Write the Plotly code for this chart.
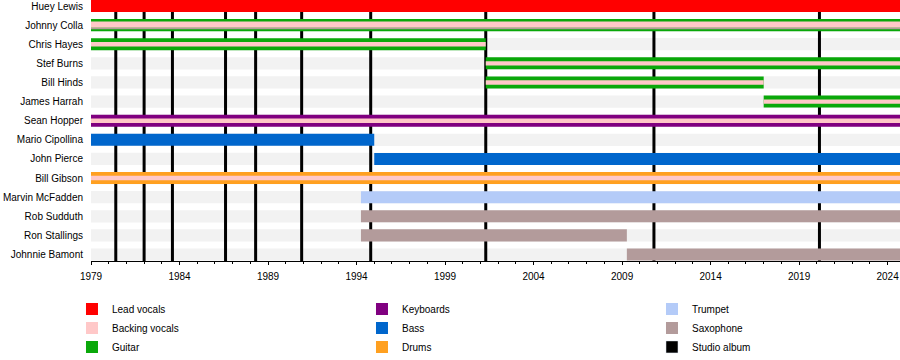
import plotly.graph_objects as go

# ---------------- data ----------------
members = ["Huey Lewis", "Johnny Colla", "Chris Hayes", "Stef Burns", "Bill Hinds",
           "James Harrah", "Sean Hopper", "Mario Cipollina", "John Pierce", "Bill Gibson",
           "Marvin McFadden", "Rob Sudduth", "Ron Stallings", "Johnnie Bamont"]

START = 1979.0
END = 2024.7

lead_vocals = [("Huey Lewis", 1979.0, END)]
guitar = [("Johnny Colla", 1979.0, END), ("Chris Hayes", 1979.0, 2001.3),
          ("Stef Burns", 2001.3, END), ("Bill Hinds", 2001.3, 2017.0),
          ("James Harrah", 2017.0, END)]
keyboards = [("Sean Hopper", 1979.0, END)]
bass = [("Mario Cipollina", 1979.0, 1995.0), ("John Pierce", 1995.0, END)]
drums = [("Bill Gibson", 1979.0, END)]
trumpet = [("Marvin McFadden", 1994.25, END)]
saxophone = [("Rob Sudduth", 1994.25, END), ("Ron Stallings", 1994.25, 2009.27),
             ("Johnnie Bamont", 2009.27, END)]
backing_vocals = [("Chris Hayes", 1979.0, 2001.3), ("Stef Burns", 2001.3, END),
                  ("Bill Hinds", 2001.3, 2017.0), ("James Harrah", 2017.0, END),
                  ("Sean Hopper", 1979.0, END), ("Bill Gibson", 1979.0, END)]
colla_backing_vocals = [("Johnny Colla", 1979.0, END)]
colla_saxophone = [("Johnny Colla", 1979.0, END)]

studio_albums = [1980.4, 1982.0, 1983.6, 1986.6, 1988.3, 1990.9, 1994.8, 2001.3, 2010.8, 2020.15]

# ---------------- styles ----------------
COL = {
    "Lead vocals": "#ff0000",
    "Backing vocals": "#ffc8c8",
    "Guitar": "#0aa80a",
    "Keyboards": "#800080",
    "Bass": "#0066cc",
    "Drums": "#ffa020",
    "Trumpet": "#b4cbf8",
    "Saxophone": "#b39b9b",
    "Studio album": "#000000",
}
RANK = {"Lead vocals": 1, "Keyboards": 2, "Trumpet": 3, "Backing vocals": 4, "Bass": 5,
        "Saxophone": 6, "Guitar": 7, "Drums": 8, "Studio album": 9}

BAR_W = 0.63
STRIPE_W = 0.23
Y_RANGE = [13.34, -0.314]

fig = go.Figure()


def add_bars(spans, name, width, offset=None, showlegend=True):
    kw = {}
    if offset is not None:
        kw["offset"] = offset
    fig.add_trace(go.Bar(
        y=[s[0] for s in spans],
        x=[s[2] - s[1] for s in spans],
        base=[s[1] for s in spans],
        orientation="h",
        width=width,
        marker=dict(color=COL[name], line=dict(width=0)),
        name=name,
        legendrank=RANK[name],
        showlegend=showlegend,
        hoverinfo="skip",
        **kw,
    ))


add_bars(lead_vocals, "Lead vocals", BAR_W)
add_bars(guitar, "Guitar", BAR_W)
add_bars(keyboards, "Keyboards", BAR_W)
add_bars(bass, "Bass", BAR_W)
add_bars(drums, "Drums", BAR_W)
add_bars(trumpet, "Trumpet", BAR_W)
add_bars(saxophone, "Saxophone", BAR_W)
add_bars(backing_vocals, "Backing vocals", STRIPE_W)
add_bars(colla_backing_vocals, "Backing vocals", 0.335, offset=-0.193, showlegend=False)
add_bars(colla_saxophone, "Saxophone", 0.08, offset=0.142, showlegend=False)

# legend entry for studio albums
fig.add_trace(go.Bar(x=[None], y=[None], orientation="h", name="Studio album",
                     marker=dict(color=COL["Studio album"]), legendrank=RANK["Studio album"],
                     hoverinfo="skip"))

# background row bands
shapes = []
for i, _ in enumerate(members):
    shapes.append(dict(type="rect", layer="below", xref="x", yref="y",
                       x0=START, x1=END, y0=i - 0.32, y1=i + 0.32,
                       fillcolor="#f2f2f2", line=dict(width=0)))
# studio album lines
for yr in studio_albums:
    shapes.append(dict(type="line", layer="below", xref="x", yref="y",
                       x0=yr, x1=yr, y0=Y_RANGE[1], y1=Y_RANGE[0],
                       line=dict(color=COL["Studio album"], width=3)))

fig.update_layout(
    width=900, height=360,
    margin=dict(l=91, r=0, t=0, b=99, autoexpand=False),
    paper_bgcolor="white", plot_bgcolor="white",
    barmode="overlay",
    font=dict(family="Liberation Sans, Arial, sans-serif", size=10, color="#000000"),
    shapes=shapes,
    showlegend=True,
    legend=dict(orientation="h", x=-0.0235, xanchor="left", y=-0.128, yanchor="top",
                entrywidth=245, entrywidthmode="pixels", traceorder="normal",
                font=dict(size=10, color="#000000"), bgcolor="rgba(0,0,0,0)",
                itemclick=False, itemdoubleclick=False),
    xaxis=dict(range=[START, END], showgrid=False, zeroline=False, automargin=False,
               showline=True, linecolor="#000000", linewidth=1,
               ticks="outside", ticklen=3, tickcolor="#000000", tickwidth=1,
               tick0=1979, dtick=5, tickfont=dict(size=10, color="#000000"),
               ticklabelstandoff=3,
               minor=dict(dtick=1, tick0=1979, ticks="outside", ticklen=2,
                          tickcolor="#000000", showgrid=False)),
    yaxis=dict(type="category", categoryorder="array", categoryarray=members,
               range=Y_RANGE, showgrid=False, zeroline=False, showline=False,
               automargin=False,
               ticks="", tickfont=dict(size=10, color="#000000"), ticklabelstandoff=7),
)

fig.write_html("out.html",
               config={"displayModeBar": False, "staticPlot": True},
               post_script="document.body.style.margin='0';document.body.style.overflow='hidden';")
